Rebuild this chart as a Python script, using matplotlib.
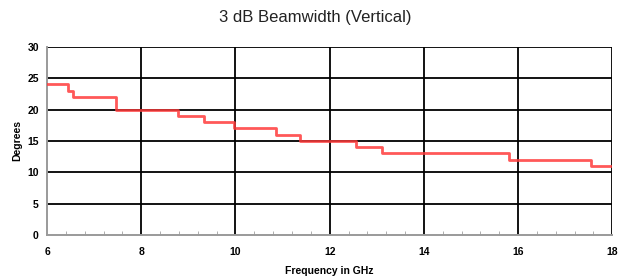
import numpy as np
import matplotlib.pyplot as plt
from matplotlib.ticker import MultipleLocator

# step edges (GHz) and beamwidth values (degrees)
freq_edges = [6.0, 6.44, 6.55, 7.46, 8.77, 9.34, 9.96, 10.85, 11.37, 12.55, 13.1, 15.8, 17.55, 18.0]
beamwidth = [24, 23, 22, 20, 19, 18, 17, 16, 15, 14, 13, 12, 11]

x_ticks = [6, 8, 10, 12, 14, 16, 18]
y_ticks = [0, 5, 10, 15, 20, 25, 30]

plt.rcParams['font.family'] = ['Liberation Sans', 'DejaVu Sans']

fig = plt.figure(figsize=(6.28, 2.79), dpi=100)
ax = fig.add_axes([0.075, 0.158, 0.9, 0.674])

# grid lines
for x in x_ticks[1:]:
    ax.axvline(x, color='black', lw=1.3, zorder=1)
for y in y_ticks[1:]:
    ax.axhline(y, color='black', lw=1.3, zorder=1)

# step curve
ys = beamwidth + [beamwidth[-1]]
ax.step(freq_edges, ys, where='post', color='#ff3b3b', lw=2, alpha=0.85, zorder=3)

ax.set_xlim(6, 18)
ax.set_ylim(0, 30)
ax.set_xticks(x_ticks)
ax.set_yticks(y_ticks)
ax.xaxis.set_minor_locator(MultipleLocator(0.4))
ax.tick_params(axis='x', which='major', length=0, pad=9)
ax.tick_params(axis='x', which='minor', direction='in', length=3, color='#a0a0a0')
ax.tick_params(axis='y', length=0, pad=6)
for lab in ax.get_xticklabels() + ax.get_yticklabels():
    lab.set_fontsize(7.5)
    lab.set_fontweight('bold')

for side in ['left', 'bottom']:
    ax.spines[side].set_color('#9a9a9a')
    ax.spines[side].set_linewidth(1.4)
ax.spines['top'].set_visible(False)
ax.spines['right'].set_visible(False)

ax.set_xlabel('Frequency in GHz', fontsize=7.5, fontweight='bold', va='center')
ax.xaxis.set_label_coords(0.5, -0.19)
ax.set_ylabel('Degrees', fontsize=7.5, fontweight='bold', va='center')
ax.yaxis.set_label_coords(-0.052, 0.5)
fig.suptitle('3 dB Beamwidth (Vertical)', x=0.502, y=0.965, fontsize=12, color='#222222')

fig.savefig('out.png', dpi=100)
